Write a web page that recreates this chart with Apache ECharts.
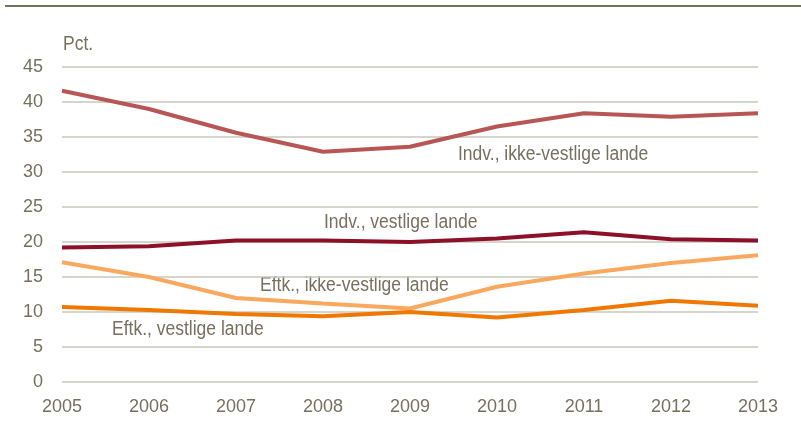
<!DOCTYPE html>
<html>
<head>
<meta charset="utf-8">
<script src="https://cdn.jsdelivr.net/npm/echarts@6/dist/echarts.min.js"></script>
<style>
html,body{margin:0;padding:0;background:#fff;}
#top{position:absolute;left:5px;top:5px;width:796px;height:2px;background:#77705f;}
#c{width:801px;height:427px;}
</style>
</head>
<body>
<div id="top"></div>
<div id="c"></div>
<script>
var years = ['2005','2006','2007','2008','2009','2010','2011','2012','2013'];
var yTicks = [0,5,10,15,20,25,30,35,40,45];
var indvIkkeVestlige = [41.6, 39.0, 35.6, 32.9, 33.6, 36.5, 38.4, 37.9, 38.4];
var indvVestlige = [19.2, 19.4, 20.2, 20.2, 20.0, 20.5, 21.4, 20.4, 20.2];
var eftkIkkeVestlige = [17.1, 15.0, 12.0, 11.2, 10.5, 13.6, 15.5, 17.0, 18.1];
var eftkVestlige = [10.7, 10.3, 9.7, 9.4, 10.0, 9.2, 10.3, 11.6, 10.9];
var names = ['Indv., ikke-vestlige lande','Indv., vestlige lande','Eftk., ikke-vestlige lande','Eftk., vestlige lande'];

var txt = '#77705f';
var font = '"Liberation Sans", Arial, sans-serif';
var chart = echarts.init(document.getElementById('c'));
function s(name, data, color){
  return {name:name, type:'line', data:data, symbol:'none', smooth:false,
    lineStyle:{color:color, width:4}, itemStyle:{color:color}, animation:false};
}
function lbl(text, x, y){
  return {type:'text', x:x, y:y, scaleX:0.875,
    style:{text:text, fill:txt, font:'20px '+font, verticalAlign:'middle', align:'left'}};
}
chart.setOption({
  animation:false,
  grid:{left:62, right:43, top:67, bottom:45},
  xAxis:{type:'category', data:years, boundaryGap:false,
    axisLine:{show:false}, axisTick:{show:false},
    axisLabel:{color:txt, fontSize:18, fontFamily:font, margin:16}},
  yAxis:{type:'value', min:0, max:45, interval:5,
    axisLine:{show:false}, axisTick:{show:false},
    splitLine:{lineStyle:{color:'#c9c7bb', width:1.5}},
    axisLabel:{color:txt, fontSize:18, fontFamily:font, margin:19}},
  series:[
    s(names[0], indvIkkeVestlige, '#b85555'),
    s(names[1], indvVestlige, '#8c1028'),
    s(names[2], eftkIkkeVestlige, '#f9a95f'),
    s(names[3], eftkVestlige, '#f07800')
  ],
  graphic:[
    lbl('Pct.', 63, 44),
    lbl(names[0], 458, 154),
    lbl(names[1], 324, 222),
    lbl(names[2], 260, 285),
    lbl(names[3], 112, 329)
  ]
});
</script>
</body>
</html>
